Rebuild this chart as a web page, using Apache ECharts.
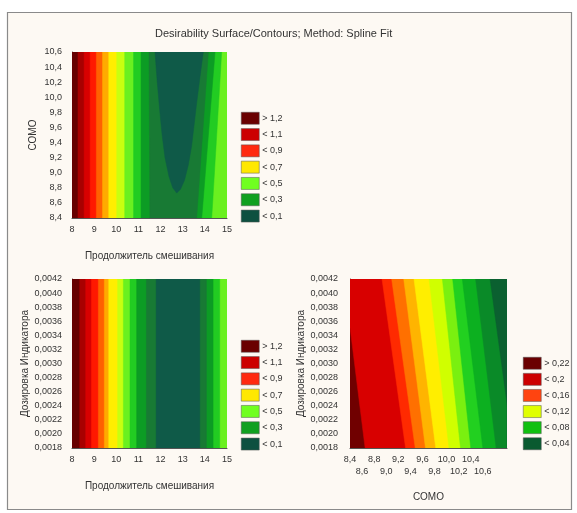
<!DOCTYPE html>
<html>
<head>
<meta charset="utf-8">
<script src="https://cdn.jsdelivr.net/npm/echarts@6/dist/echarts.min.js"></script>
<style>html,body{margin:0;padding:0;background:#fff;}#c{width:577px;height:513px;}</style>
</head>
<body>
<div id="c"></div>
<script>
// ---------- data ----------
const titleText = 'Desirability Surface/Contours; Method: Spline Fit';
const xNameMix = 'Продолжитель смешивания';
const nameSomo = 'СОМО';
const nameDose = 'Дозировка Индикатора';

// axis ranges
const mixRange = [8, 15];
const somoRange = [8.4, 10.6];
const doseRange = [0.0018, 0.0042];
const somoRangeBR = [8.4, 11.0];
const somoLastLabel = 10.6;

// legend labels
const legendA = ['> 1,2', '< 1,1', '< 0,9', '< 0,7', '< 0,5', '< 0,3', '< 0,1'];
const legendB = ['> 0,22', '< 0,2', '< 0,16', '< 0,12', '< 0,08', '< 0,04'];

// contour boundaries: [x at bottom of plot, x at top of plot] for levels 1..N
// top-left plot (x: Продолжитель смешивания, y: СОМО)
const tlLeft = [[8.27,8.27],[8.55,8.55],[8.82,8.82],[9.10,9.10],[9.38,9.38],[9.66,9.66],[10.02,10.02],[10.38,10.38],[10.78,10.78],[11.12,11.12],[11.52,11.48]];
const tlRight = [null,null,null,null,null,null,null,null,[14.31,14.76],[13.86,14.46],[13.63,14.16]];
// innermost (< 0,1) region of top-left plot, as [x, y] outline
const tlCore = [[11.75,10.6],[11.85,10.2],[11.97,9.8],[12.07,9.5],[12.2,9.2],[12.38,8.95],[12.55,8.8],[12.73,8.73],
                [12.9,8.78],[13.08,8.9],[13.25,9.1],[13.4,9.35],[13.5,9.6],[13.62,9.9],[13.77,10.25],[13.93,10.6]];

// bottom-left plot (x: Продолжитель смешивания, y: Дозировка)
const blLeft = [[8.35,8.35],[8.62,8.62],[8.88,8.88],[9.19,9.19],[9.46,9.46],[9.66,9.66],[10.06,10.06],[10.32,10.32],[10.62,10.62],[10.92,10.92],[11.36,11.36],[11.80,11.80]];
const blRight = [null,null,null,null,null,null,null,null,[14.67,14.67],[14.37,14.37],[14.07,14.07],[13.77,13.77]];

// bottom-right plot (x: СОМО, y: Дозировка)
const brLeft = [[8.65,8.30],[9.32,8.93],[9.48,9.09],[9.65,9.29],[9.82,9.46],[10.04,9.71],[10.23,9.93],[10.40,10.10],[10.60,10.26],[10.82,10.48],[11.10,10.72]];

// ---------- styles ----------
const bandColorsA = ['#660000','#a80000','#d80000','#ff1800','#ff6000','#ffaa00','#ffee00','#c8ff10','#6af020','#22cc22','#0c9c24','#187a34','#0f5a48'];
const bandColorsB = ['#700000','#d80000','#ff2a00','#ff7000','#ffb400','#ffee00','#d0ff00','#7af010','#22d020','#0cb020','#0a8a28','#0b6030'];
const legendColorsA = ['#6a0000','#cc0000','#ff2a10','#ffe800','#70ff20','#10a020','#0e5040'];
const legendColorsB = ['#6a0000','#cc0000','#ff4410','#e0ff00','#10c010','#0a5a30'];

const FONT = 'Liberation Sans, Arial, sans-serif';
const fmt = d => v => v.toFixed(d).replace('.', ',');

function bandShape(k, left, right, xr, yr, core) {
  if (k === 0) return [[xr[0], yr[0]], [xr[0], yr[1]], [xr[1], yr[1]], [xr[1], yr[0]]];
  if (core && k === left.length + 1) return core;
  const L = left[k - 1];
  const R = right && right[k - 1] ? right[k - 1] : [xr[1], xr[1]];
  return [[L[0], yr[0]], [L[1], yr[1]], [R[1], yr[1]], [R[0], yr[0]]];
}

function contourSeries(idx, left, right, xr, yr, colors, core) {
  const n = left.length + 1 + (core ? 1 : 0);
  const data = [];
  for (let k = 0; k < n; k++) data.push([k]);
  return {
    type: 'custom', xAxisIndex: idx, yAxisIndex: idx, clip: true, silent: true,
    data: data,
    renderItem: function (params, api) {
      const k = api.value(0);
      const pts = bandShape(k, left, right, xr, yr, core).map(p => api.coord(p));
      return { type: 'polygon', shape: { points: pts }, style: { fill: colors[k], stroke: colors[k], lineWidth: 0.5 } };
    }
  };
}

const axisLabelStyle = { fontFamily: FONT, fontSize: 9, color: '#333', showMinLabel: true, showMaxLabel: true, hideOverlap: false };
const nameStyle = { fontFamily: FONT, fontSize: 10, color: '#333' };

function xAxisDef(idx, range, interval, dec, name, gap, extra) {
  return Object.assign({
    type: 'value', gridIndex: idx, min: range[0], max: range[1], interval: interval, position: 'bottom',
    name: name, nameLocation: 'middle', nameGap: gap, nameTextStyle: nameStyle,
    axisLine: { show: true, onZero: false, lineStyle: { color: '#555', width: 1 } },
    axisTick: { show: false }, splitLine: { show: false },
    axisLabel: Object.assign({ margin: 7, formatter: fmt(dec) }, axisLabelStyle)
  }, extra || {});
}
function yAxisDef(idx, range, interval, dec, name, gap, margin) {
  return {
    type: 'value', gridIndex: idx, min: range[0], max: range[1], interval: interval,
    name: name, nameLocation: 'middle', nameGap: gap, nameTextStyle: nameStyle,
    axisLine: { show: true, onZero: false, lineStyle: { color: '#555', width: 1 } },
    axisTick: { show: false }, splitLine: { show: false },
    axisLabel: Object.assign({ margin: margin, formatter: fmt(dec) }, axisLabelStyle)
  };
}
// staggered labels for bottom-right x axis: parity 0 = first row, 1 = second row
function staggerFormatter(parity) {
  return function (v) {
    if (v > somoLastLabel + 0.01) return '';
    const i = Math.round((v - somoRangeBR[0]) / 0.2);
    return i % 2 === parity ? v.toFixed(1).replace('.', ',') : '';
  };
}

const legendSeries = [];
legendA.forEach((nm, i) => legendSeries.push({ type: 'scatter', name: nm, data: [], xAxisIndex: 0, yAxisIndex: 0, itemStyle: { color: legendColorsA[i], opacity: 1 } }));
legendB.forEach((nm, i) => legendSeries.push({ type: 'scatter', name: nm, data: [], xAxisIndex: 2, yAxisIndex: 2, itemStyle: { color: legendColorsB[i], opacity: 1 } }));

function legendDef(names, left, top, gap) {
  return {
    data: names, orient: 'vertical', left: left, top: top, padding: 0,
    itemWidth: 18, itemHeight: 12, itemGap: gap, icon: 'rect', selectedMode: false,
    itemStyle: { borderColor: '#555', borderWidth: 0.5, opacity: 1 },
    textStyle: { fontFamily: FONT, fontSize: 9, color: '#333', padding: [0, 0, 0, -2] }
  };
}

const chart = echarts.init(document.getElementById('c'), null, { renderer: 'canvas' });
chart.setOption({
  backgroundColor: '#ffffff',
  animation: false,
  title: { text: titleText, left: 150, top: 23, textStyle: { fontFamily: FONT, fontSize: 11, fontWeight: 'normal', color: '#333' } },
  graphic: [{ type: 'rect', z: -10, shape: { x: 7.5, y: 12.5, width: 564, height: 497 }, style: { fill: '#fdf9f3', stroke: '#8a8a8a', lineWidth: 1.2 } }],
  grid: [
    { left: 72, top: 52, width: 155, height: 166 },
    { left: 72, top: 279, width: 155, height: 169 },
    { left: 350, top: 279, width: 157, height: 169 }
  ],
  xAxis: [
    xAxisDef(0, mixRange, 1, 0, xNameMix, 33),
    xAxisDef(1, mixRange, 1, 0, xNameMix, 33),
    xAxisDef(2, somoRangeBR, 0.2, 1, nameSomo, 44, {
      axisLabel: Object.assign({}, axisLabelStyle, { margin: 7, formatter: staggerFormatter(0) })
    }),
    xAxisDef(2, somoRangeBR, 0.2, 1, '', 0, {
      axisLine: { show: false },
      axisLabel: Object.assign({}, axisLabelStyle, { margin: 19, formatter: staggerFormatter(1) })
    })
  ],
  yAxis: [
    yAxisDef(0, somoRange, 0.2, 1, nameSomo, 34, 10),
    yAxisDef(1, doseRange, 0.0002, 4, nameDose, 42, 10),
    yAxisDef(2, doseRange, 0.0002, 4, nameDose, 42, 12)
  ],
  legend: [
    legendDef(legendA, 241, 112, 3.8),
    legendDef(legendA, 241, 340, 3.8),
    legendDef(legendB, 523, 357, 3.6)
  ],
  series: [
    contourSeries(0, tlLeft, tlRight, mixRange, somoRange, bandColorsA, tlCore),
    contourSeries(1, blLeft, blRight, mixRange, doseRange, bandColorsA, null),
    contourSeries(2, brLeft, null, somoRangeBR, doseRange, bandColorsB, null)
  ].concat(legendSeries)
});
</script>
</body>
</html>
